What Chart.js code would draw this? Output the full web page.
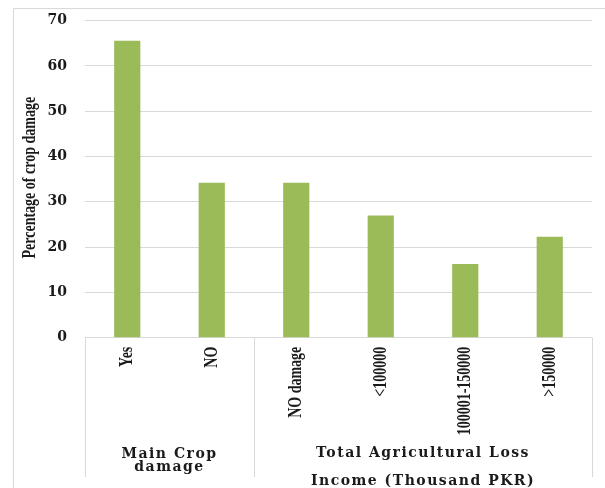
<!DOCTYPE html>
<html>
<head>
<meta charset="utf-8">
<script src="https://cdn.jsdelivr.net/npm/chart.js@4.4.0/dist/chart.umd.min.js"></script>
<style>
  html, body { margin: 0; padding: 0; background: #fff; }
  #wrap { width: 605px; height: 488px; position: relative; }
</style>
</head>
<body>
<div id="wrap"><canvas id="mychart"></canvas></div>
<script>
// bars and their groups
const categories = ['Yes', 'NO', 'NO damage', '<100000', '100001-150000', '>150000'];
const damage = [65.6, 34.2, 34.2, 27.0, 16.3, 22.3];
const groups = [
    { lines: ['Main Crop', 'damage'], from: 0, to: 1, base: [457.5, 471] },
    { lines: ['Total Agricultural Loss', 'Income (Thousand PKR)'], from: 2, to: 5, base: [456.5, 484.5] }
];
const yTicks = [0, 10, 20, 30, 40, 50, 60, 70];
const yTitle = 'Percentage of crop damage';

const lineGray = '#d9d9d9';
const textColor = '#1a1a1a';

// rotated text, read bottom to top, glyphs a bit wider than the font
function upText(ctx, text, px, py, align) {
    ctx.save();
    ctx.translate(px, py);
    ctx.rotate(-Math.PI / 2);
    ctx.scale(1, 1.35);
    ctx.textAlign = align;
    ctx.textBaseline = 'middle';
    ctx.fillText(text, 0, 0);
    ctx.restore();
}

// frame, axis title, category names, group separators and group captions
const groupPlugin = {
    id: 'groupLabels',
    beforeDraw(chart) {
        const ctx = chart.ctx;
        ctx.save();
        ctx.strokeStyle = lineGray;
        ctx.lineWidth = 1;
        ctx.beginPath();
        ctx.moveTo(13.5, 488);
        ctx.lineTo(13.5, 8.5);
        ctx.lineTo(605, 8.5);
        ctx.stroke();
        ctx.restore();
    },
    afterDraw(chart) {
        const ctx = chart.ctx;
        const x = chart.scales.x;
        const area = chart.chartArea;
        const bottom = area.bottom;
        const half = (x.getPixelForTick(1) - x.getPixelForTick(0)) / 2;
        const edges = [x.getPixelForTick(0) - half];
        groups.forEach(g => edges.push(x.getPixelForTick(g.to) + half));

        ctx.save();
        ctx.strokeStyle = lineGray;
        ctx.lineWidth = 1;
        edges.forEach(px => {
            const p = Math.round(px) + 0.5;
            ctx.beginPath();
            ctx.moveTo(p, bottom);
            ctx.lineTo(p, 477);
            ctx.stroke();
        });

        ctx.fillStyle = textColor;
        ctx.font = 'bold 14px "Liberation Serif"';
        upText(ctx, yTitle, 30, (area.top + area.bottom) / 2 - 1.5, 'center');
        categories.forEach((c, i) => upText(ctx, c, x.getPixelForTick(i), bottom + 9, 'right'));

        ctx.font = 'bold 14px "DejaVu Serif"';
        ctx.letterSpacing = '1.5px';
        ctx.textAlign = 'center';
        ctx.textBaseline = 'alphabetic';
        groups.forEach(g => {
            const cx = (x.getPixelForTick(g.from) + x.getPixelForTick(g.to)) / 2;
            g.lines.forEach((t, i) => ctx.fillText(t, cx, g.base[i]));
        });
        ctx.restore();
    }
};

const abc = document.getElementById('mychart').getContext('2d');
new Chart(abc, {
    type: 'bar',
    data: {
        labels: categories,
        datasets: [{
            data: damage,
            backgroundColor: '#9bbb59',
            borderWidth: 0,
            barPercentage: 0.31,
            categoryPercentage: 1
        }]
    },
    options: {
        responsive: true,
        maintainAspectRatio: false,
        animation: false,
        layout: { padding: { left: 0, top: 20.7, right: 13, bottom: 0 } },
        plugins: {
            legend: { display: false },
            tooltip: { enabled: false }
        },
        scales: {
            x: {
                grid: { display: false, drawTicks: false },
                border: { display: false },
                ticks: { display: false, autoSkip: false },
                afterFit(scale) { scale.height = 150.3; }
            },
            y: {
                min: 0,
                max: 70,
                afterBuildTicks(scale) { scale.ticks = yTicks.map(v => ({ value: v })); },
                grid: { color: lineGray, lineWidth: 1, drawTicks: false },
                border: { display: false },
                ticks: {
                    color: textColor,
                    font: { family: 'DejaVu Serif', weight: 'bold', size: 14 },
                    padding: 18
                },
                afterFit(scale) {
                    scale.width = 85;
                    scale.paddingTop = 0;
                    scale.paddingBottom = 0;
                }
            }
        }
    },
    plugins: [groupPlugin]
});
</script>
</body>
</html>
